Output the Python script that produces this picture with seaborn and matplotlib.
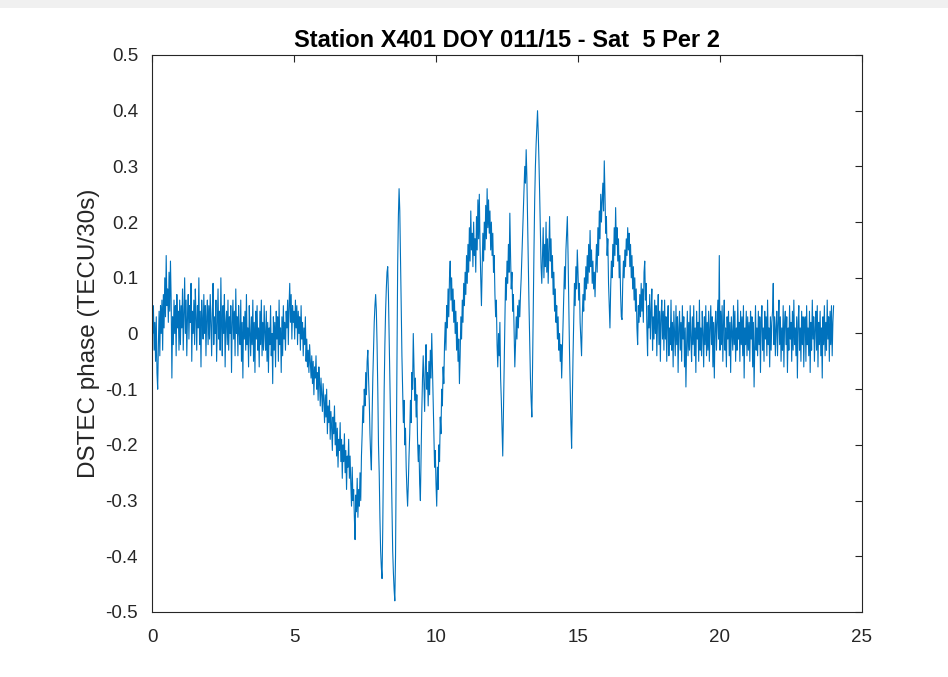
import numpy as np
import pandas as pd
import matplotlib
matplotlib.use("Agg")
import matplotlib.pyplot as plt
import seaborn as sns
from matplotlib.patches import Rectangle

# ---- data: DSTEC phase per hour of day (40 samples per hour) ----
h00 = [0.07, 0.00, 0.05, -0.03, 0.02, -0.05, 0.03, -0.07, -0.10, -0.02, 0.04, -0.04, 0.05, 0.00, 0.06, -0.03, 0.07, 0.01, 0.10, 0.03, 0.14, 0.05, 0.08, 0.02, 0.11, 0.04, 0.13, 0.06, -0.08, 0.03, -0.02, 0.06, 0.00, 0.05, -0.04, 0.07, 0.01, 0.04, -0.03, 0.06]
h01 = [-0.02, 0.05, 0.01, 0.08, -0.03, 0.04, 0.10, 0.00, 0.06, -0.04, 0.03, 0.07, -0.01, 0.05, 0.02, 0.09, -0.05, 0.04, 0.00, 0.06, -0.02, 0.08, 0.03, -0.03, 0.05, 0.01, 0.10, -0.02, 0.04, -0.06, 0.06, 0.02, -0.01, 0.07, 0.00, 0.05, -0.04, 0.03, 0.06, -0.02]
h02 = [0.05, -0.01, 0.07, 0.02, -0.04, 0.04, 0.09, -0.02, 0.03, 0.00, 0.06, -0.05, 0.02, 0.08, -0.01, 0.04, -0.03, 0.10, 0.01, -0.04, 0.05, 0.00, 0.07, -0.06, 0.02, 0.04, -0.02, 0.06, -0.03, 0.03, 0.00, 0.05, -0.07, 0.02, 0.06, -0.01, 0.04, -0.04, 0.08, 0.00]
h03 = [0.03, -0.04, 0.05, 0.00, -0.02, 0.06, -0.05, 0.02, -0.08, 0.03, -0.01, 0.04, -0.03, 0.07, -0.02, 0.01, -0.06, 0.05, 0.00, -0.04, 0.03, -0.02, 0.06, -0.05, 0.02, -0.07, 0.04, -0.01, 0.05, -0.03, 0.01, -0.06, 0.04, -0.02, 0.06, -0.04, 0.02, -0.03, 0.05, 0.00]
h04 = [-0.03, 0.04, -0.05, 0.02, -0.07, 0.01, -0.02, 0.05, -0.04, 0.00, -0.09, 0.03, -0.03, 0.02, -0.06, 0.04, -0.01, 0.03, -0.05, 0.06, -0.02, 0.01, -0.07, 0.03, -0.04, 0.05, -0.01, 0.02, -0.03, 0.04, 0.01, 0.06, -0.02, 0.05, 0.09, 0.02, 0.07, -0.01, 0.05, 0.02]
h05 = [0.04, -0.01, 0.06, 0.01, 0.05, -0.02, 0.04, 0.00, 0.03, -0.03, 0.05, -0.01, 0.02, -0.04, 0.01, -0.02, 0.03, -0.05, -0.01, -0.06, -0.03, -0.07, -0.02, -0.05, -0.08, -0.04, -0.09, -0.05, -0.11, -0.06, -0.08, -0.04, -0.10, -0.07, -0.12, -0.06, -0.09, -0.13, -0.08, -0.11]
h06 = [-0.14, -0.09, -0.12, -0.16, -0.11, -0.15, -0.10, -0.18, -0.13, -0.16, -0.12, -0.19, -0.14, -0.17, -0.21, -0.15, -0.18, -0.13, -0.20, -0.16, -0.22, -0.17, -0.24, -0.19, -0.21, -0.16, -0.23, -0.19, -0.26, -0.20, -0.23, -0.18, -0.25, -0.21, -0.28, -0.22, -0.24, -0.19, -0.26, -0.22]
h07 = [-0.27, -0.31, -0.24, -0.30, -0.28, -0.33, -0.37, -0.29, -0.32, -0.26, -0.33, -0.28, -0.31, -0.25, -0.30, -0.22, -0.18, -0.13, -0.16, -0.10, -0.13, -0.07, -0.11, -0.05, -0.03, -0.08, -0.12, -0.18, -0.22, -0.245, -0.15, -0.08, -0.03, 0.02, 0.05, 0.07, 0.04, -0.02, -0.10, -0.20]
h08 = [-0.25, -0.33, -0.39, -0.42, -0.44, -0.35, -0.22, -0.10, -0.02, 0.04, 0.08, 0.11, 0.12, 0.07, 0.00, -0.08, -0.16, -0.25, -0.33, -0.39, -0.43, -0.46, -0.48, -0.40, -0.22, -0.02, 0.12, 0.21, 0.26, 0.22, 0.14, 0.05, -0.04, -0.10, -0.16, -0.12, -0.20, -0.17, -0.24, -0.28]
h09 = [-0.31, -0.27, -0.22, -0.18, -0.12, -0.16, -0.07, -0.10, 0.00, -0.06, -0.12, -0.08, -0.15, -0.11, -0.19, -0.23, -0.20, -0.27, -0.30, -0.22, -0.14, -0.08, -0.04, -0.09, -0.14, -0.06, -0.02, -0.10, -0.07, -0.13, -0.05, -0.11, -0.03, -0.08, 0.00, -0.06, -0.12, -0.18, -0.24, -0.21]
h10 = [-0.27, -0.31, -0.24, -0.28, -0.20, -0.23, -0.15, -0.18, -0.10, -0.13, -0.06, -0.09, -0.02, 0.02, -0.03, 0.05, 0.01, 0.08, 0.03, 0.10, 0.13, 0.06, 0.10, 0.04, 0.08, 0.02, 0.06, 0.00, 0.04, -0.03, 0.02, -0.05, -0.01, -0.09, -0.04, 0.03, -0.01, 0.06, 0.02, 0.09]
h11 = [0.05, 0.11, 0.07, 0.14, 0.09, 0.16, 0.11, 0.19, 0.13, 0.22, 0.15, 0.18, 0.12, 0.20, 0.14, 0.17, 0.11, 0.21, 0.15, 0.24, 0.17, 0.25, 0.16, 0.10, 0.05, 0.12, 0.18, 0.13, 0.20, 0.15, 0.23, 0.17, 0.26, 0.19, 0.24, 0.18, 0.22, 0.15, 0.20, 0.14]
h12 = [0.18, 0.11, 0.14, 0.07, 0.03, 0.06, -0.02, -0.06, 0.00, -0.04, 0.02, -0.08, -0.12, -0.17, -0.22, -0.14, -0.05, 0.03, 0.10, 0.06, 0.13, 0.09, 0.16, 0.11, 0.216, 0.14, 0.08, 0.11, 0.04, 0.07, 0.00, -0.06, -0.02, 0.03, -0.01, 0.05, 0.01, 0.06, 0.03, 0.07]
h13 = [0.10, 0.14, 0.18, 0.22, 0.26, 0.30, 0.27, 0.33, 0.28, 0.20, 0.12, 0.05, -0.02, -0.08, -0.12, -0.15, -0.06, 0.05, 0.15, 0.24, 0.30, 0.34, 0.37, 0.40, 0.36, 0.31, 0.25, 0.18, 0.12, 0.09, 0.14, 0.19, 0.10, 0.16, 0.12, 0.20, 0.11, 0.17, 0.09, 0.15]
h14 = [0.21, 0.13, 0.17, 0.10, 0.14, 0.07, 0.11, 0.04, 0.08, 0.02, 0.05, -0.01, 0.03, -0.03, 0.00, -0.05, -0.02, -0.08, -0.03, 0.02, 0.07, 0.12, 0.08, 0.15, 0.18, 0.21, 0.14, 0.05, -0.03, -0.10, -0.16, -0.206, -0.12, -0.04, 0.03, 0.09, 0.05, 0.12, 0.08, 0.15]
h15 = [0.11, 0.06, 0.09, 0.02, -0.01, -0.04, 0.03, 0.07, 0.04, 0.10, 0.06, 0.12, 0.08, 0.14, 0.09, 0.16, 0.11, 0.185, 0.12, 0.15, 0.09, 0.13, 0.08, 0.11, 0.066, 0.12, 0.16, 0.11, 0.19, 0.14, 0.22, 0.17, 0.25, 0.20, 0.24, 0.27, 0.22, 0.31, 0.25, 0.18]
h16 = [0.21, 0.14, 0.17, 0.09, 0.05, 0.01, 0.08, 0.13, 0.10, 0.16, 0.12, 0.19, 0.14, 0.226, 0.16, 0.19, 0.13, 0.17, 0.10, 0.14, 0.07, 0.03, 0.025, 0.09, 0.13, 0.10, 0.15, 0.12, 0.17, 0.14, 0.19, 0.15, 0.18, 0.12, 0.16, 0.10, 0.14, 0.08, 0.12, 0.06]
h17 = [0.10, 0.04, 0.08, 0.01, -0.02, 0.05, 0.02, 0.07, 0.03, 0.09, 0.04, 0.08, 0.02, 0.11, 0.13, 0.06, 0.09, 0.01, -0.04, 0.05, 0.01, 0.07, -0.01, 0.04, 0.08, -0.03, 0.03, -0.01, 0.06, 0.00, 0.05, -0.04, 0.02, 0.07, -0.02, 0.04, -0.05, 0.03, 0.06, -0.01]
h18 = [0.04, -0.03, 0.06, -0.01, 0.03, -0.05, 0.02, 0.05, -0.04, 0.01, -0.02, 0.06, -0.03, 0.02, -0.06, 0.04, 0.00, -0.04, 0.05, -0.02, 0.03, -0.07, 0.01, 0.04, -0.03, 0.02, -0.05, 0.05, -0.01, 0.03, -0.06, 0.01, -0.096, -0.02, 0.04, -0.04, 0.02, -0.03, 0.05, -0.01]
h19 = [-0.05, 0.03, -0.02, 0.05, -0.04, 0.01, -0.07, 0.04, -0.01, 0.02, -0.05, 0.06, -0.03, 0.01, -0.04, 0.04, 0.00, -0.06, 0.03, -0.02, 0.05, -0.04, 0.02, -0.03, 0.04, -0.05, 0.01, 0.05, -0.02, 0.03, -0.06, 0.02, -0.08, 0.01, 0.04, -0.03, 0.02, 0.06, -0.01, 0.14]
h20 = [-0.03, 0.04, -0.02, 0.05, -0.05, 0.02, 0.06, -0.03, 0.01, -0.06, 0.03, -0.01, 0.04, -0.04, 0.02, -0.07, 0.03, 0.00, -0.03, 0.05, -0.02, 0.04, -0.05, 0.01, -0.03, 0.06, -0.01, 0.02, -0.05, 0.04, -0.02, 0.03, -0.04, 0.05, -0.08, 0.01, -0.02, 0.04, -0.04, 0.03]
h21 = [-0.03, 0.02, -0.05, 0.04, -0.01, 0.03, -0.06, 0.02, -0.096, -0.02, 0.05, -0.03, 0.01, -0.04, 0.04, -0.02, 0.03, -0.07, 0.02, 0.05, -0.03, 0.01, -0.05, 0.04, -0.01, 0.03, -0.04, 0.06, -0.02, 0.01, -0.06, 0.03, -0.03, 0.02, 0.04, 0.09, -0.02, 0.03, -0.04, 0.01]
h22 = [0.04, -0.04, 0.02, 0.06, -0.02, 0.03, -0.05, 0.01, -0.03, 0.05, -0.06, 0.02, 0.04, -0.02, 0.03, -0.07, 0.01, -0.03, 0.05, -0.01, 0.02, -0.05, 0.04, -0.03, 0.06, -0.02, 0.01, -0.04, 0.03, -0.08, 0.02, 0.05, -0.03, 0.01, -0.05, 0.04, -0.02, 0.03, -0.06, 0.02]
h23 = [0.03, -0.05, 0.05, -0.02, 0.01, -0.04, 0.04, -0.07, 0.02, -0.03, 0.06, -0.01, 0.03, -0.05, 0.01, 0.04, -0.03, 0.05, -0.06, 0.02, -0.02, 0.04, -0.04, 0.01, -0.08, 0.03, -0.02, 0.05, -0.04, 0.02, -0.03, 0.06, -0.01, 0.03, -0.05, 0.04, -0.02, 0.05, -0.04, 0.02]
h24 = [0.05]

x_ticks = [0, 5, 10, 15, 20, 25]
y_ticks = [-0.5, -0.4, -0.3, -0.2, -0.1, 0, 0.1, 0.2, 0.3, 0.4, 0.5]
title = "Station X401 DOY 011/15 - Sat  5 Per 2"
ylabel = "DSTEC phase (TECU/30s)"

hours = [h00, h01, h02, h03, h04, h05, h06, h07, h08, h09, h10, h11,
         h12, h13, h14, h15, h16, h17, h18, h19, h20, h21, h22, h23, h24]
t_parts, v_parts = [], []
for hr, vals in enumerate(hours):
    n = len(vals)
    t_parts.append(hr + np.arange(n) / max(n, 1))
    v_parts.append(np.asarray(vals, dtype=float))
df = pd.DataFrame({"t": np.concatenate(t_parts), "v": np.concatenate(v_parts)})

# ---- style ----
sns.set_style("white")
plt.rcParams["font.family"] = ["Liberation Sans", "DejaVu Sans"]
plt.rcParams["axes.unicode_minus"] = False

fig = plt.figure(figsize=(9.48, 6.77), dpi=100)
fig.patches.append(Rectangle((0, 1 - 8 / 677), 1, 8 / 677, transform=fig.transFigure,
                             facecolor="#f0f0f0", edgecolor="none", zorder=0))
ax = fig.add_axes([152 / 948, 1 - 612 / 677, (862 - 152) / 948, (612 - 55) / 677])

sns.lineplot(data=df, x="t", y="v", ax=ax, color="#0072BD", linewidth=0.8,
             estimator=None, sort=False)

ax.set_xlim(0, 25)
ax.set_ylim(-0.5, 0.5)
ax.set_xticks(x_ticks)
ax.set_yticks(y_ticks)
ax.set_xticklabels([f"{v:g}" for v in x_ticks])
ax.set_yticklabels([f"{v:g}" for v in y_ticks])

dark = "#262626"
for s in ax.spines.values():
    s.set_visible(True)
    s.set_color(dark)
    s.set_linewidth(0.8)
ax.tick_params(direction="in", length=5, width=0.8, color=dark, labelcolor=dark,
               top=True, right=True, labelsize=13.5)
ax.tick_params(axis="y", pad=10)
ax.tick_params(axis="x", pad=12)
ax.set_xlabel("")
ax.set_ylabel(ylabel, fontsize=17.5, color=dark, labelpad=4)
ax.set_title(title, fontsize=17, fontweight="bold", color="black", pad=6)

fig.savefig("out.png", dpi=100)
